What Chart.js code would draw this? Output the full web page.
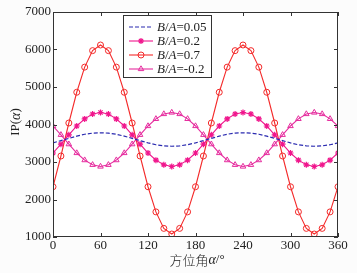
<!DOCTYPE html>
<html>
<head>
<meta charset="utf-8">
<script src="https://cdn.jsdelivr.net/npm/chart.js@4.4.1/dist/chart.umd.min.js"></script>
<style>
  html, body { margin: 0; padding: 0; background: #fcfcfc; }
  #wrap { width: 357px; height: 273px; position: relative; }
</style>
</head>
<body>
<div id="wrap"><canvas id="chart" width="357" height="273"></canvas></div>
<script>
// azimuth angles (deg), one point every 10 deg
const angles = [0, 10, 20, 30, 40, 50, 60, 70, 80, 90, 100, 110, 120, 130, 140, 150, 160, 170, 180,
  190, 200, 210, 220, 230, 240, 250, 260, 270, 280, 290, 300, 310, 320, 330, 340, 350, 360];

// IP(alpha)
const ip005 = [3510, 3570, 3630, 3690, 3740, 3770, 3780, 3770, 3740, 3690, 3630, 3570, 3510, 3460, 3430, 3420, 3430, 3460, 3510,
  3570, 3630, 3690, 3740, 3770, 3780, 3770, 3740, 3690, 3630, 3570, 3510, 3460, 3430, 3420, 3430, 3460, 3510];
const ip02 = [3240, 3475, 3725, 3960, 4150, 4280, 4320, 4280, 4150, 3960, 3725, 3475, 3240, 3050, 2925, 2880, 2925, 3050, 3240,
  3475, 3725, 3960, 4150, 4280, 4320, 4280, 4150, 3960, 3725, 3475, 3240, 3050, 2925, 2880, 2925, 3050, 3240];
const ip07 = [2340, 3160, 4040, 4860, 5530, 5970, 6120, 5970, 5530, 4860, 4040, 3160, 2340, 1670, 1230, 1080, 1230, 1670, 2340,
  3160, 4040, 4860, 5530, 5970, 6120, 5970, 5530, 4860, 4040, 3160, 2340, 1670, 1230, 1080, 1230, 1670, 2340];
const ipm02 = [3960, 3725, 3475, 3240, 3050, 2925, 2880, 2925, 3050, 3240, 3475, 3725, 3960, 4150, 4280, 4320, 4280, 4150, 3960,
  3725, 3475, 3240, 3050, 2925, 2880, 2925, 3050, 3240, 3475, 3725, 3960, 4150, 4280, 4320, 4280, 4150, 3960];

const xTicks = [0, 60, 120, 180, 240, 300, 360];
const yTicks = [1000, 2000, 3000, 4000, 5000, 6000, 7000];
const legendValues = ['0.05', '0.2', '0.7', '-0.2'];

const serif = '"Liberation Serif", "DejaVu Serif", serif';
const toPts = arr => arr.map((v, i) => ({ x: angles[i], y: v }));

const datasets = [
  { label: 'B/A=0.05', data: toPts(ip005), borderColor: '#2a2ab0', borderWidth: 1.2, borderDash: [4, 2], pointRadius: 0 },
  { label: 'B/A=0.2', data: toPts(ip02), borderColor: '#f0158c', borderWidth: 1.1, pointStyle: 'star', pointRadius: 3, pointBorderColor: '#f0158c', pointBackgroundColor: '#f0158c', pointBorderWidth: 1.2 },
  { label: 'B/A=0.7', data: toPts(ip07), borderColor: '#f42a2a', borderWidth: 1.1, pointStyle: 'circle', pointRadius: 3, pointBorderColor: '#f42a2a', pointBackgroundColor: 'rgba(0,0,0,0)', pointBorderWidth: 1 },
  { label: 'B/A=-0.2', data: toPts(ipm02), borderColor: '#e62c9e', borderWidth: 1.1, pointStyle: 'triangle', pointRadius: 3.2, pointBorderColor: '#e62c9e', pointBackgroundColor: 'rgba(0,0,0,0)', pointBorderWidth: 1 }
];

// draw a run of text parts with their own font styles
function drawParts(ctx, parts, x, y) {
  parts.forEach(p => {
    ctx.font = p.font;
    ctx.fillText(p.t, x, y);
    x += ctx.measureText(p.t).width;
  });
  return x;
}
function partsWidth(ctx, parts) {
  let w = 0;
  parts.forEach(p => { ctx.font = p.font; w += ctx.measureText(p.t).width; });
  return w;
}

const decor = {
  id: 'decor',
  beforeDraw(chart) {
    const { ctx, chartArea: a } = chart;
    ctx.save();
    ctx.fillStyle = '#ffffff';
    ctx.fillRect(a.left, a.top, a.right - a.left, a.bottom - a.top);
    ctx.restore();
  },
  afterDraw(chart) {
    const { ctx, chartArea: a, scales } = chart;
    ctx.save();
    // box and inward ticks
    ctx.strokeStyle = '#333';
    ctx.lineWidth = 1;
    ctx.strokeRect(a.left + 0.5, a.top + 0.5, a.right - a.left - 1, a.bottom - a.top - 1);
    ctx.beginPath();
    xTicks.forEach(v => {
      const px = Math.round(scales.x.getPixelForValue(v)) + 0.5;
      ctx.moveTo(px, a.bottom); ctx.lineTo(px, a.bottom - 4);
      ctx.moveTo(px, a.top); ctx.lineTo(px, a.top + 4);
    });
    yTicks.forEach(v => {
      const py = Math.round(scales.y.getPixelForValue(v)) + 0.5;
      ctx.moveTo(a.left, py); ctx.lineTo(a.left + 4, py);
      ctx.moveTo(a.right, py); ctx.lineTo(a.right - 4, py);
    });
    ctx.stroke();

    // legend
    const lx = 123, ly = 15, lw = 88, lh = 62;
    ctx.fillStyle = '#ffffff';
    ctx.fillRect(lx, ly, lw, lh);
    ctx.strokeStyle = '#333';
    ctx.strokeRect(lx + 0.5, ly + 0.5, lw, lh);
    chart.data.datasets.forEach((ds, i) => {
      const y = ly + 12 + i * 14;
      ctx.strokeStyle = ds.borderColor;
      ctx.lineWidth = ds.borderWidth;
      ctx.setLineDash(ds.borderDash || []);
      ctx.beginPath();
      ctx.moveTo(lx + 6, y); ctx.lineTo(lx + 30, y);
      ctx.stroke();
      ctx.setLineDash([]);
      if (ds.pointRadius) {
        ctx.fillStyle = ds.pointBackgroundColor || ds.pointBorderColor;
        ctx.lineWidth = ds.pointBorderWidth;
        Chart.helpers.drawPoint(ctx, { pointStyle: ds.pointStyle, radius: ds.pointRadius, borderWidth: ds.pointBorderWidth, rotation: 0 }, lx + 18, y);
      }
      ctx.fillStyle = '#222';
      ctx.textBaseline = 'middle';
      ctx.textAlign = 'left';
      drawParts(ctx, [
        { t: 'B', font: 'italic 13px ' + serif },
        { t: '/', font: '13px ' + serif },
        { t: 'A', font: 'italic 13px ' + serif },
        { t: '=' + legendValues[i], font: '13px ' + serif }
      ], lx + 34, y + 1);
    });

    // x axis title
    ctx.fillStyle = '#222';
    ctx.textBaseline = 'middle';
    const xParts = [
      { t: '方位角', font: '300 13px "Noto Sans CJK SC", sans-serif' },
      { t: 'α', font: 'italic 14px ' + serif },
      { t: '/°', font: '13px ' + serif }
    ];
    drawParts(ctx, xParts, 197 - partsWidth(ctx, xParts) / 2, 260);

    // y axis title
    const yParts = [
      { t: 'IP(', font: '13px ' + serif },
      { t: 'α', font: 'italic 14px ' + serif },
      { t: ')', font: '13px ' + serif }
    ];
    ctx.translate(16, 122);
    ctx.rotate(-Math.PI / 2);
    drawParts(ctx, yParts, -partsWidth(ctx, yParts) / 2, 0);
    ctx.restore();
  }
};

new Chart(document.getElementById('chart'), {
  type: 'line',
  data: { datasets },
  plugins: [decor],
  options: {
    responsive: false,
    animation: false,
    layout: { padding: { left: 0, right: 19, top: 12, bottom: 0 } },
    plugins: { legend: { display: false }, tooltip: { enabled: false } },
    elements: { line: { tension: 0 } },
    scales: {
      x: {
        type: 'linear', min: 0, max: 360,
        afterBuildTicks: s => { s.ticks = xTicks.map(v => ({ value: v })); },
        afterFit: s => { s.height = 36; },
        grid: { display: false, drawTicks: false },
        border: { display: false },
        ticks: { color: '#222', font: { family: serif, size: 13 }, padding: 1, maxRotation: 0, callback: v => String(v) }
      },
      y: {
        min: 1000, max: 7000,
        afterBuildTicks: s => { s.ticks = yTicks.map(v => ({ value: v })); },
        afterFit: s => { s.width = 53; },
        grid: { display: false, drawTicks: false },
        border: { display: false },
        ticks: { color: '#222', font: { family: serif, size: 13 }, padding: 2, callback: v => String(v) }
      }
    }
  }
});
</script>
</body>
</html>
